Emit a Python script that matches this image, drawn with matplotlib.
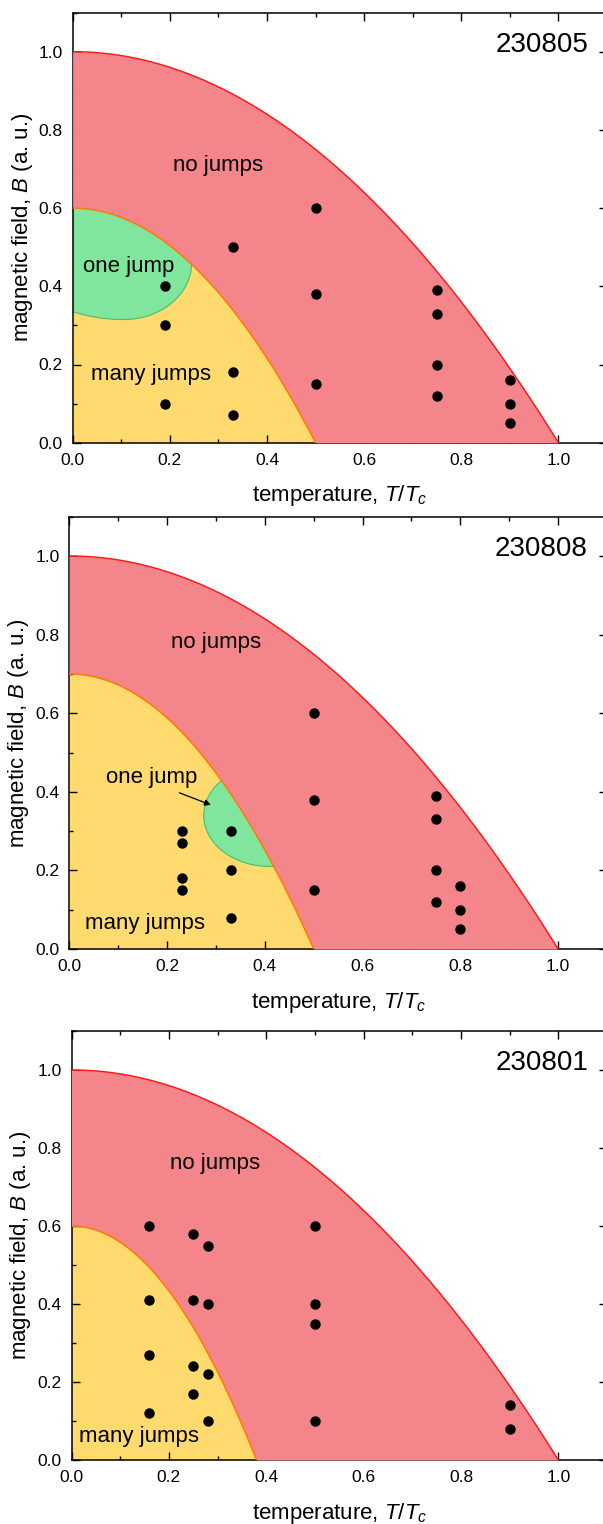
import numpy as np
import matplotlib
matplotlib.use('Agg')
import matplotlib.pyplot as plt
from matplotlib.patches import Ellipse, Polygon
from matplotlib.ticker import MultipleLocator, FormatStrFormatter

plt.rcParams['font.family'] = 'Liberation Sans'
plt.rcParams['mathtext.fontset'] = 'custom'
plt.rcParams['mathtext.rm'] = 'Liberation Sans'
plt.rcParams['mathtext.it'] = 'Liberation Sans:italic'

# sample names, one panel each
samples = ['230805', '230808', '230801']

# inner boundary (many jumps): B = b0 * (1 - (T/t0)^2)
inner_b0 = [0.6, 0.7, 0.6]
inner_t0 = [0.5, 0.5, 0.38]

# measured points (T/Tc, B)
t_805 = [0.19, 0.19, 0.19, 0.33, 0.33, 0.33, 0.5, 0.5, 0.5,
         0.75, 0.75, 0.75, 0.75, 0.9, 0.9, 0.9]
b_805 = [0.40, 0.30, 0.10, 0.50, 0.18, 0.07, 0.60, 0.38, 0.15,
         0.39, 0.33, 0.20, 0.12, 0.16, 0.10, 0.05]

t_808 = [0.23, 0.23, 0.23, 0.23, 0.33, 0.33, 0.33, 0.5, 0.5, 0.5,
         0.75, 0.75, 0.75, 0.75, 0.8, 0.8, 0.8]
b_808 = [0.30, 0.27, 0.18, 0.15, 0.30, 0.20, 0.08, 0.60, 0.38, 0.15,
         0.39, 0.33, 0.20, 0.12, 0.16, 0.10, 0.05]

t_801 = [0.16, 0.16, 0.16, 0.16, 0.25, 0.25, 0.25, 0.25,
         0.28, 0.28, 0.28, 0.28, 0.5, 0.5, 0.5, 0.5, 0.9, 0.9]
b_801 = [0.60, 0.41, 0.27, 0.12, 0.58, 0.41, 0.24, 0.17,
         0.55, 0.40, 0.22, 0.10, 0.60, 0.40, 0.35, 0.10, 0.14, 0.08]

points = [(t_805, b_805), (t_808, b_808), (t_801, b_801)]

# label positions (T/Tc, B)
no_jumps_pos = [(0.30, 0.71), (0.30, 0.78), (0.295, 0.76)]
many_jumps_pos = [(0.162, 0.174), (0.155, 0.064), (0.138, 0.06)]

red_fill = '#F4868B'
yellow_fill = '#FFDA6F'
green_fill = '#80E69D'
green_edge = '#45C065'
red_line = '#FF1A1A'
orange_line = '#FF7A00'

# axes boxes in pixels: left, right, top, bottom
W, H = 603, 1524
boxes = [(72.7, 607, 12.6, 442.7), (69.3, 607, 516.7, 949),
         (71.5, 607, 1031, 1460)]

fig = plt.figure(figsize=(W / 100, H / 100), dpi=100)

t = np.linspace(0, 1, 500)
outer = 1 - t**2

for i, name in enumerate(samples):
    l, r, tp, bt = boxes[i]
    ax = fig.add_axes([l / W, 1 - bt / H, (r - l) / W, (bt - tp) / H])

    b0, t0 = inner_b0[i], inner_t0[i]
    inner = np.clip(b0 * (1 - (t / t0)**2), 0, None)
    ti = np.linspace(0, t0, 300)
    bi = b0 * (1 - (ti / t0)**2)

    ax.fill_between(ti, 0, bi, color=yellow_fill, lw=0, zorder=1)
    ax.fill_between(t, inner, outer, color=red_fill, lw=0, zorder=3)

    # one jump region
    if i == 0:
        ta = np.linspace(0, 0.105, 30)
        ba = 0.315 + 0.02 * (1 - ta / 0.105)**2
        th = np.linspace(-np.pi / 2, 0, 60)
        tb = 0.105 + 0.14 * np.cos(th)
        bb = 0.46 + 0.145 * np.sin(th)
        xy = list(zip(ta, ba)) + list(zip(tb, bb)) + [(0.245, 0.62), (0, 0.62)]
        ax.add_patch(Polygon(xy, closed=True, fc=green_fill, ec=green_edge,
                             lw=0.8, zorder=2))
        ax.text(0.116, 0.451, 'one jump', fontsize=16, ha='center',
                va='center', zorder=6)
    elif i == 1:
        ax.add_patch(Ellipse((0.41, 0.34), 0.27, 0.26, fc=green_fill,
                             ec=green_edge, lw=0.8, zorder=2))
        ax.annotate('', xy=(0.295, 0.364), xytext=(0.22, 0.40),
                    arrowprops=dict(arrowstyle='-|>', color='k', lw=0.9,
                                    mutation_scale=9), zorder=6)
        ax.text(0.168, 0.437, 'one jump', fontsize=16, ha='center',
                va='center', zorder=6)

    ax.plot(t, outer, color=red_line, lw=1.1, zorder=4)
    ax.plot(ti, bi, color=orange_line, lw=1.1, zorder=4)

    ts, bs = points[i]
    ax.plot(ts, bs, 'o', color='k', ms=6.5, mec='k', zorder=5)

    ax.text(*no_jumps_pos[i], 'no jumps', fontsize=16, ha='center',
            va='center', zorder=6)
    ax.text(*many_jumps_pos[i], 'many jumps', fontsize=16, ha='center',
            va='center', zorder=6)
    ax.text(1.061, 1.0, name, fontsize=20, ha='right', va='baseline',
            zorder=6)

    ax.set_xlim(0, 1.1)
    ax.set_ylim(0, 1.1)
    ax.xaxis.set_major_locator(MultipleLocator(0.2))
    ax.xaxis.set_minor_locator(MultipleLocator(0.1))
    ax.yaxis.set_major_locator(MultipleLocator(0.2))
    ax.yaxis.set_minor_locator(MultipleLocator(0.1))
    ax.xaxis.set_major_formatter(FormatStrFormatter('%.1f'))
    ax.yaxis.set_major_formatter(FormatStrFormatter('%.1f'))
    ax.tick_params(which='both', direction='in', top=True, right=True,
                   labelsize=12.5, width=1.0)
    ax.tick_params(which='major', length=5.5)
    ax.tick_params(which='minor', length=2.8)
    ax.tick_params(axis='x', pad=7.5)
    ax.tick_params(axis='y', pad=7)
    for sp in ax.spines.values():
        sp.set_linewidth(1.1)

    ax.set_xlabel('temperature, $T/T_c$', fontsize=16, labelpad=11)
    ax.set_ylabel('magnetic field, $B$ (a. u.)', fontsize=16, labelpad=3)

fig.savefig('out.png', dpi=100)
